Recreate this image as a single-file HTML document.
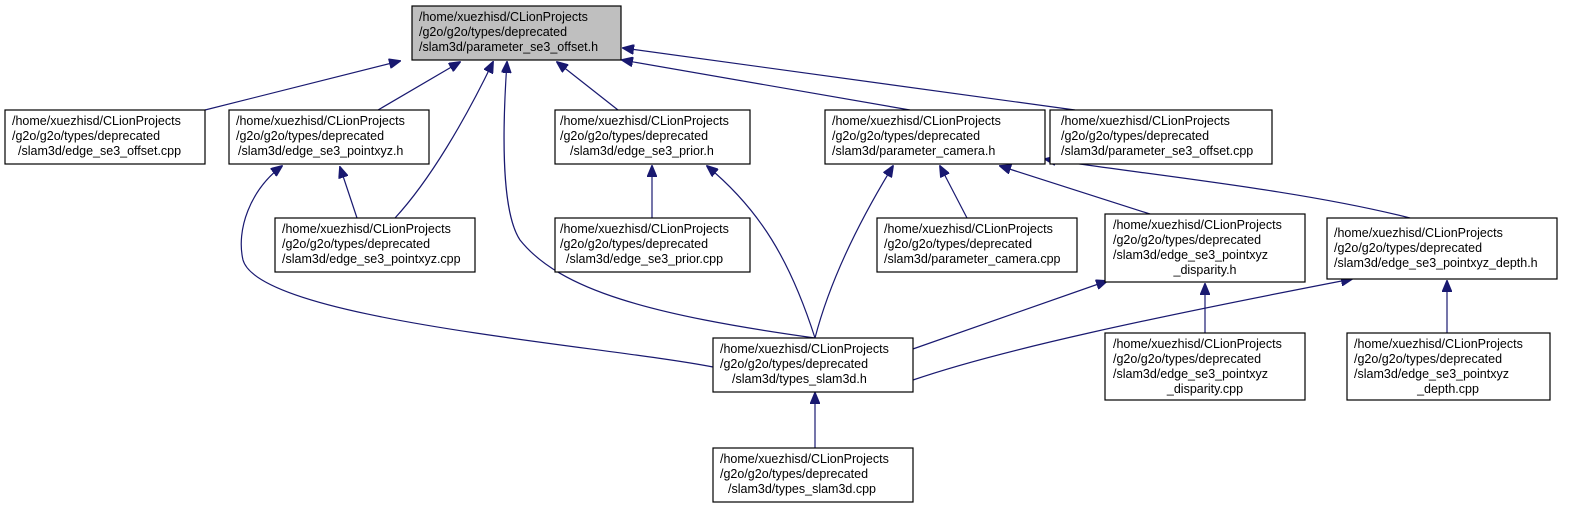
<!DOCTYPE html>
<html><head><meta charset="utf-8"><style>
body{margin:0;background:#fff;width:1573px;height:512px;overflow:hidden}
svg{position:absolute;left:0;top:0}
text{font-family:"Liberation Sans",sans-serif;font-size:12.5px;fill:#000}
</style></head><body>
<svg width="1573" height="512" viewBox="0 0 1573 512">
<defs><marker id="a" markerWidth="12" markerHeight="10" refX="11" refY="5" orient="auto" markerUnits="userSpaceOnUse"><path d="M0,0 L12,5 L0,10 z" fill="#191970" stroke="#191970"/></marker></defs>
<g fill="none" stroke="#191970" stroke-width="1.2" marker-end="url(#a)">
<path d="M205,110 L400,61"/>
<path d="M378,110 L460,62"/>
<path d="M395,218 C430,180 465,120 493,62"/>
<path d="M357,218 L340,167"/>
<path d="M713,367 C600,345 260,320 243,260 C236,230 250,190 282,166"/>
<path d="M815,338 C650,315 560,290 520,240 C500,210 503,120 507,62"/>
<path d="M618,110 L557,62"/>
<path d="M910,110 L622,60"/>
<path d="M1075,110 L623,48"/>
<path d="M652,218 L652,166"/>
<path d="M815,338 C790,260 760,210 707,166"/>
<path d="M815,338 C830,280 860,220 893,166"/>
<path d="M967,218 L940,166"/>
<path d="M1150,214 L1000,166"/>
<path d="M1410,218 C1300,190 1150,175 1045,159"/>
<path d="M910,350 L1107,281"/>
<path d="M913,380 C1000,350 1150,318 1352,279"/>
<path d="M1205,333 L1205,284"/>
<path d="M1447,333 L1447,281"/>
<path d="M815,448 L815,393"/>
</g>
<g stroke="#000" stroke-width="1.2">
<rect x="412" y="6" width="209" height="54" fill="#bfbfbf"/>
<rect x="5" y="110" width="200" height="54" fill="#fff"/>
<rect x="229" y="110" width="200" height="54" fill="#fff"/>
<rect x="555" y="110" width="195" height="54" fill="#fff"/>
<rect x="825" y="110" width="220" height="54" fill="#fff"/>
<rect x="1050" y="110" width="222" height="54" fill="#fff"/>
<rect x="275" y="218" width="200" height="54" fill="#fff"/>
<rect x="555" y="218" width="195" height="54" fill="#fff"/>
<rect x="877" y="218" width="200" height="54" fill="#fff"/>
<rect x="1105" y="214" width="200" height="68" fill="#fff"/>
<rect x="1327" y="218" width="230" height="61" fill="#fff"/>
<rect x="713" y="338" width="200" height="54" fill="#fff"/>
<rect x="1105" y="333" width="200" height="67" fill="#fff"/>
<rect x="1347" y="333" width="203" height="67" fill="#fff"/>
<rect x="713" y="448" width="200" height="54" fill="#fff"/>
</g>
<g>
<text x="419" y="21">/home/xuezhisd/CLionProjects</text><text x="419" y="36">/g2o/g2o/types/deprecated</text><text x="419" y="51">/slam3d/parameter_se3_offset.h</text>
<text x="12" y="125">/home/xuezhisd/CLionProjects</text><text x="12" y="140">/g2o/g2o/types/deprecated</text><text x="18" y="155">/slam3d/edge_se3_offset.cpp</text>
<text x="236" y="125">/home/xuezhisd/CLionProjects</text><text x="236" y="140">/g2o/g2o/types/deprecated</text><text x="238" y="155">/slam3d/edge_se3_pointxyz.h</text>
<text x="560" y="125">/home/xuezhisd/CLionProjects</text><text x="560" y="140">/g2o/g2o/types/deprecated</text><text x="570" y="155">/slam3d/edge_se3_prior.h</text>
<text x="832" y="125">/home/xuezhisd/CLionProjects</text><text x="832" y="140">/g2o/g2o/types/deprecated</text><text x="832" y="155">/slam3d/parameter_camera.h</text>
<text x="1061" y="125">/home/xuezhisd/CLionProjects</text><text x="1061" y="140">/g2o/g2o/types/deprecated</text><text x="1061" y="155">/slam3d/parameter_se3_offset.cpp</text>
<text x="282" y="233">/home/xuezhisd/CLionProjects</text><text x="282" y="248">/g2o/g2o/types/deprecated</text><text x="282" y="263">/slam3d/edge_se3_pointxyz.cpp</text>
<text x="560" y="233">/home/xuezhisd/CLionProjects</text><text x="560" y="248">/g2o/g2o/types/deprecated</text><text x="566" y="263">/slam3d/edge_se3_prior.cpp</text>
<text x="884" y="233">/home/xuezhisd/CLionProjects</text><text x="884" y="248">/g2o/g2o/types/deprecated</text><text x="884" y="263">/slam3d/parameter_camera.cpp</text>
<text x="1113" y="229">/home/xuezhisd/CLionProjects</text><text x="1113" y="244">/g2o/g2o/types/deprecated</text><text x="1113" y="259">/slam3d/edge_se3_pointxyz</text><text x="1205" y="274" text-anchor="middle">_disparity.h</text>
<text x="1334" y="237">/home/xuezhisd/CLionProjects</text><text x="1334" y="252">/g2o/g2o/types/deprecated</text><text x="1334" y="267">/slam3d/edge_se3_pointxyz_depth.h</text>
<text x="720" y="353">/home/xuezhisd/CLionProjects</text><text x="720" y="368">/g2o/g2o/types/deprecated</text><text x="732" y="383">/slam3d/types_slam3d.h</text>
<text x="1113" y="348">/home/xuezhisd/CLionProjects</text><text x="1113" y="363">/g2o/g2o/types/deprecated</text><text x="1113" y="378">/slam3d/edge_se3_pointxyz</text><text x="1205" y="393" text-anchor="middle">_disparity.cpp</text>
<text x="1354" y="348">/home/xuezhisd/CLionProjects</text><text x="1354" y="363">/g2o/g2o/types/deprecated</text><text x="1354" y="378">/slam3d/edge_se3_pointxyz</text><text x="1448" y="393" text-anchor="middle">_depth.cpp</text>
<text x="720" y="463">/home/xuezhisd/CLionProjects</text><text x="720" y="478">/g2o/g2o/types/deprecated</text><text x="728" y="493">/slam3d/types_slam3d.cpp</text>
</g>
</svg>
</body></html>
